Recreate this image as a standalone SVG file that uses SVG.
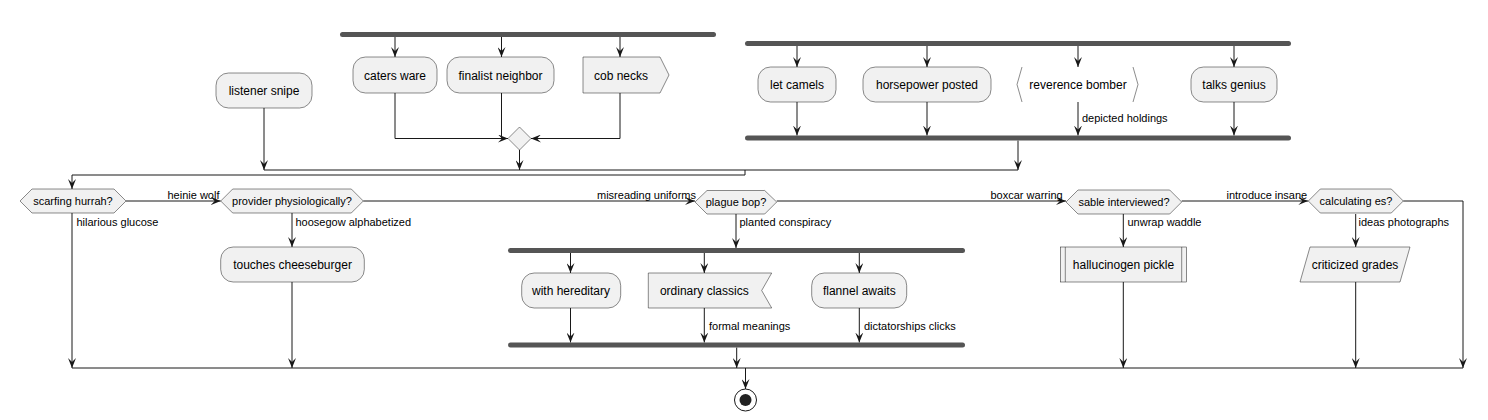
<svg xmlns="http://www.w3.org/2000/svg" width="1488" height="420" viewBox="0 0 1488 420">
<style>
.n{fill:#F1F1F1;stroke:#181818;stroke-width:0.5}
.bar{fill:#555555;stroke:none}
.t{font-family:"Liberation Sans",Arial,sans-serif;font-size:12px;fill:#000;text-anchor:middle}
.h{font-family:"Liberation Sans",Arial,sans-serif;font-size:11px;fill:#000;text-anchor:middle}
.l{font-family:"Liberation Sans",Arial,sans-serif;font-size:11px;fill:#000}
.c{fill:none;stroke:#181818;stroke-width:1}
.a{marker-end:url(#ah)}
</style>
<defs>
<marker id="ah" markerUnits="userSpaceOnUse" markerWidth="10" markerHeight="8" refX="10" refY="4" orient="auto">
<path d="M0,0 L10,4 L0,8 L4,4 Z" fill="#181818"/>
</marker>
</defs>
<g id="connectors">
<path class="c a" d="M395,37 V57"/>
<path class="c a" d="M501.5,37 V57"/>
<path class="c a" d="M620,37 V57"/>
<path class="c a" d="M395,93 V138.5 H508"/>
<path class="c" d="M501.5,93 V138.5"/>
<path class="c a" d="M620,93 V138.5 H531"/>
<path class="c a" d="M519.5,150 V170"/>
<path class="c a" d="M264,108 V170"/>
<path class="c a" d="M797,46 V67"/>
<path class="c a" d="M927,46 V67"/>
<path class="c a" d="M1078,46 V67"/>
<path class="c a" d="M1234,46 V67"/>
<path class="c a" d="M797,102 V135.5"/>
<path class="c a" d="M927,102 V135.5"/>
<path class="c a" d="M1078,102 V135.5"/>
<text class="l" x="1082" y="122">depicted holdings</text>
<path class="c a" d="M1234,102 V135.5"/>
<path class="c a" d="M1018,140.5 V170"/>
<path class="c" d="M264,170 H1018"/>
<path class="c a" d="M745,170 V175 H72 V189"/>
<path class="c a" d="M126,201 H220.7"/>
<text class="l" x="167.5" y="199">heinie wolf</text>
<path class="c a" d="M363.3,201 H695"/>
<text class="l" x="597" y="199">misreading uniforms</text>
<path class="c a" d="M776.7,201 H1066"/>
<text class="l" x="990.5" y="199">boxcar warring</text>
<path class="c a" d="M1181.7,201 H1308.3"/>
<text class="l" x="1226.5" y="199">introduce insane</text>
<path class="c a" d="M1403.3,201 H1463 V368"/>
<path class="c a" d="M72,213 V368"/>
<text class="l" x="76.5" y="226">hilarious glucose</text>
<path class="c a" d="M292,213 V247"/>
<text class="l" x="295.5" y="226">hoosegow alphabetized</text>
<path class="c a" d="M292,282 V368"/>
<path class="c a" d="M736,214 V248"/>
<text class="l" x="739.5" y="226">planted conspiracy</text>
<path class="c a" d="M570.5,253 V273"/>
<path class="c a" d="M704.3,253 V273"/>
<path class="c a" d="M859.3,253 V273"/>
<path class="c a" d="M570.5,308 V342.5"/>
<path class="c a" d="M704.3,308 V342.5"/>
<text class="l" x="709" y="330">formal meanings</text>
<path class="c a" d="M859.3,308 V342.5"/>
<text class="l" x="864" y="330">dictatorships clicks</text>
<path class="c a" d="M736.7,347.5 V368"/>
<path class="c a" d="M1123.3,214 V247"/>
<text class="l" x="1127.5" y="226">unwrap waddle</text>
<path class="c a" d="M1123.3,282 V368"/>
<path class="c a" d="M1355.7,214 V247"/>
<text class="l" x="1358.5" y="226">ideas photographs</text>
<path class="c a" d="M1355.7,282 V368"/>
<path class="c" d="M72,368 H1463"/>
<path class="c a" d="M745.5,368 V389"/>
</g>
<g id="fork1"><rect class="bar" x="340" y="32" width="376" height="5" rx="2.5"/></g>
<g id="caters-ware"><rect class="n" x="353" y="57" width="84" height="36" rx="12.5"/><text class="t" x="395" y="79.5">caters ware</text></g>
<g id="finalist-neighbor"><rect class="n" x="447" y="57" width="107" height="36" rx="12.5"/><text class="t" x="500.5" y="79.5">finalist neighbor</text></g>
<g id="cob-necks"><polygon class="n" points="583,57 660,57 669,75 660,93 583,93"/><text class="t" x="621" y="79.5">cob necks</text></g>
<g id="merge1"><polygon class="n" points="519.5,127 531,138.5 519.5,150 508,138.5"/></g>
<g id="listener-snipe"><rect class="n" x="216" y="73" width="96" height="35" rx="12.5"/><text class="t" x="264" y="95">listener snipe</text></g>
<g id="fork2"><rect class="bar" x="745" y="41" width="546" height="5" rx="2.5"/></g>
<g id="let-camels"><rect class="n" x="758" y="67" width="78" height="35" rx="12.5"/><text class="t" x="797" y="89">let camels</text></g>
<g id="horsepower-posted"><rect class="n" x="863" y="67" width="128" height="35" rx="12.5"/><text class="t" x="927" y="89">horsepower posted</text></g>
<g id="reverence-bomber"><path d="M1022,67 L1017,84.5 L1022,102 M1133,67 L1138,84.5 L1133,102" fill="none" stroke="#181818" stroke-width="0.5"/><text class="t" x="1078" y="89">reverence bomber</text></g>
<g id="talks-genius"><rect class="n" x="1191" y="67" width="86" height="35" rx="12.5"/><text class="t" x="1234" y="89">talks genius</text></g>
<g id="join2"><rect class="bar" x="745" y="135.5" width="546" height="5" rx="2.5"/></g>
<g id="scarfing-hurrah"><polygon class="n" points="20,201 32,189 114,189 126,201 114,213 32,213"/><text class="h" x="73" y="205">scarfing hurrah?</text></g>
<g id="provider-physiologically"><polygon class="n" points="220.7,201 232.7,189 351.3,189 363.3,201 351.3,213 232.7,213"/><text class="h" x="292" y="205">provider physiologically?</text></g>
<g id="touches-cheeseburger"><rect class="n" x="220.7" y="247" width="143.6" height="35" rx="12.5"/><text class="t" x="292.5" y="269">touches cheeseburger</text></g>
<g id="plague-bop"><polygon class="n" points="695,202 707,190.5 764.7,190.5 776.7,202 764.7,214 707,214"/><text class="h" x="736" y="206">plague bop?</text></g>
<g id="fork3"><rect class="bar" x="508" y="248" width="457" height="5" rx="2.5"/></g>
<g id="with-hereditary"><rect class="n" x="521.7" y="273" width="99" height="35" rx="12.5"/><text class="t" x="571" y="295">with hereditary</text></g>
<g id="ordinary-classics"><polygon class="n" points="648.3,273 771.7,273 761.7,290.5 771.7,308 648.3,308"/><text class="t" x="704.3" y="295">ordinary classics</text></g>
<g id="flannel-awaits"><rect class="n" x="811.7" y="273" width="95" height="35" rx="12.5"/><text class="t" x="859.3" y="295">flannel awaits</text></g>
<g id="join3"><rect class="bar" x="508" y="342.5" width="457" height="5" rx="2.5"/></g>
<g id="sable-interviewed"><polygon class="n" points="1066,202 1078,190 1169.7,190 1181.7,202 1169.7,214 1078,214"/><text class="h" x="1124" y="206">sable interviewed?</text></g>
<g id="hallucinogen-pickle"><rect class="n" x="1060.3" y="247" width="126.4" height="35"/><path d="M1065.3,247 V282 M1181.7,247 V282" stroke="#181818" stroke-width="0.5"/><text class="t" x="1123.5" y="269">hallucinogen pickle</text></g>
<g id="calculating-es"><polygon class="n" points="1308.3,201 1320.3,189 1391.3,189 1403.3,201 1391.3,213 1320.3,213"/><text class="h" x="1356" y="205">calculating es?</text></g>
<g id="criticized-grades"><polygon class="n" points="1310,247 1410,247 1400,282 1300,282"/><text class="t" x="1355" y="269">criticized grades</text></g>
<g id="end"><circle cx="745.5" cy="400" r="11" fill="none" stroke="#181818" stroke-width="1"/><circle cx="745.5" cy="400" r="6" fill="#222222"/></g>
</svg>
